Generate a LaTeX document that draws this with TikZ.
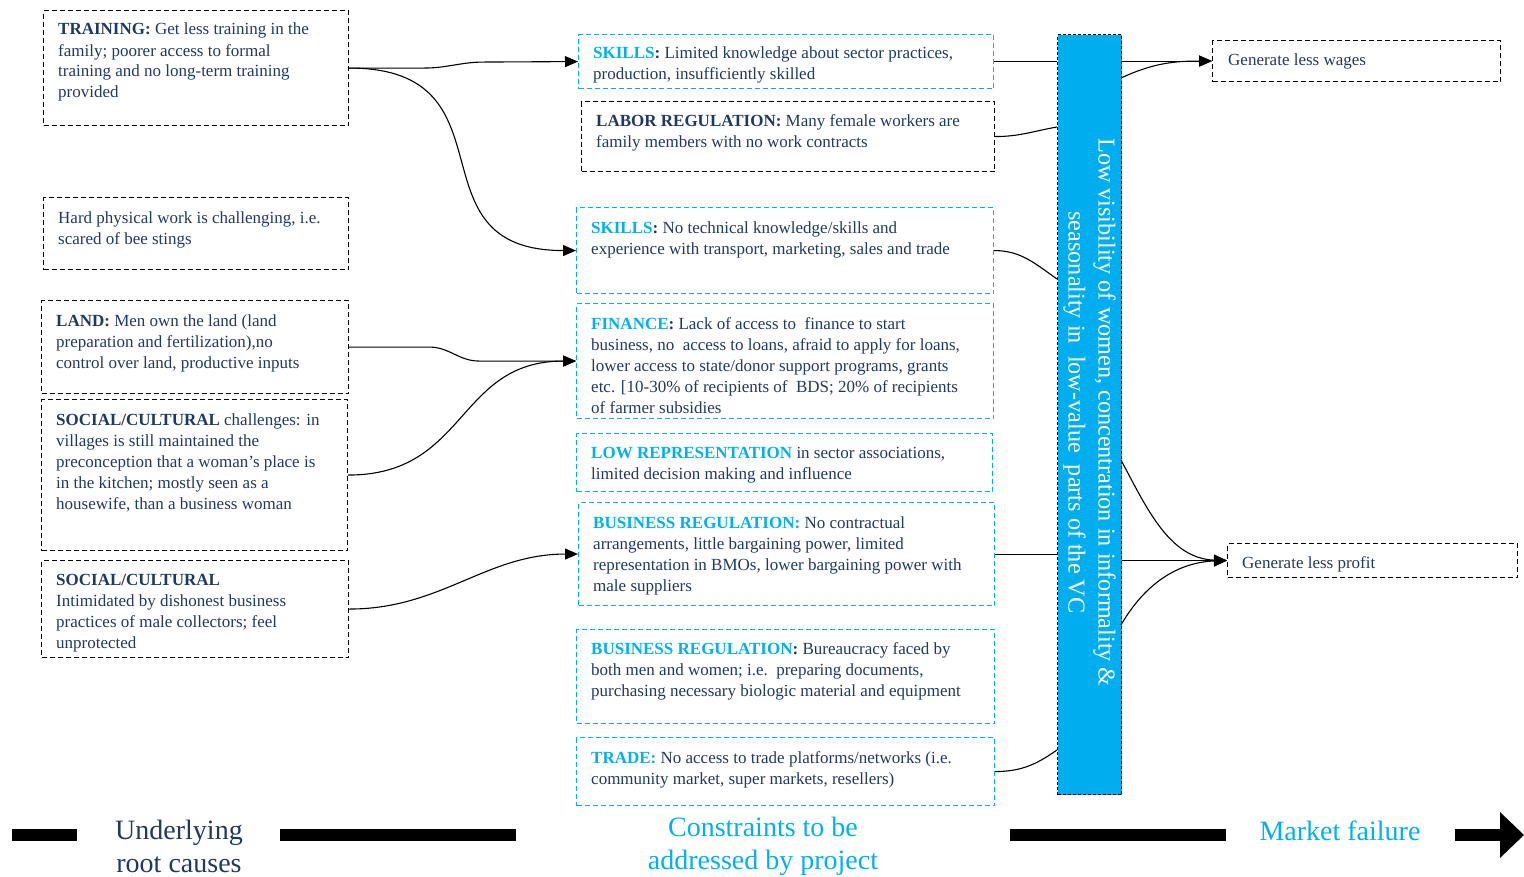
\documentclass[tikz,border=0pt]{standalone}
\usepackage{fontspec}
\setmainfont{Liberation Serif}
\usetikzlibrary{arrows.meta,calc}
\definecolor{navy}{HTML}{1F3864}
\definecolor{cyanb}{HTML}{00B0F0}
\definecolor{barfill}{HTML}{00AEEF}
\newcommand\hl[1]{\textcolor{cyanb}{\textbf{#1}}}
\begin{document}
\begin{tikzpicture}[x=1pt,y=-1pt,
 bbox/.style={draw=black, dash pattern=on 5pt off 3pt, line width=1.1pt, inner sep=0pt, anchor=north west},
 cbox/.style={draw=cyanb, dash pattern=on 5pt off 3pt, line width=1.1pt, inner sep=0pt, anchor=north west},
 txt/.style={anchor=north west, inner sep=0pt, align=left, text=navy, font=\fontsize{17}{21}\selectfont},
 conn/.style={line width=1.1pt, draw=black},
 arr/.style={conn, -{Triangle[length=13pt,width=11pt]}},
 axislab/.style={font=\fontsize{28}{33}\selectfont, align=center, inner sep=0pt},
 axisbar/.style={line width=12pt, draw=black},
]
\useasboundingbox (0,0) rectangle (1524,876);

% ---------------- left column ----------------
\node[bbox, minimum width=305pt, minimum height=115pt] (l1) at (43,10) {};
\node[txt] (l1t) at (58,23) {\textbf{TRAINING:} Get less training in the\\ family; poorer access to formal\\ training and no long-term training\\ provided};

\node[bbox, minimum width=305pt, minimum height=72pt] (l2) at (43,197) {};
\node[txt] (l2t) at (58,211) {Hard physical work is challenging, i.e.\\ scared of bee stings};

\node[bbox, minimum width=307pt, minimum height=93pt] (l3) at (41,300) {};
\node[txt] (l3t) at (56,314) {\textbf{LAND:} Men own the land (land\\ preparation and fertilization),no\\ control over land, productive inputs};

\node[bbox, minimum width=306pt, minimum height=151pt] (l4) at (41,399) {};
\node[txt] (l4t) at (56,413) {\textbf{SOCIAL/CULTURAL} challenges: in\\ villages is still maintained the\\ preconception that a woman’s place is\\ in the kitchen; mostly seen as a\\ housewife, than a business woman};

\node[bbox, minimum width=307pt, minimum height=97pt] (l5) at (41,560) {};
\node[txt] (l5t) at (56,574) {\textbf{SOCIAL/CULTURAL}\\ Intimidated by dishonest business\\ practices of male collectors; feel\\ unprotected};

% ---------------- middle column ----------------
\node[cbox, minimum width=415pt, minimum height=54pt] (m1) at (578,34) {};
\node[txt] (m1t) at (593,47) {\hl{SKILLS}\textbf{:} Limited knowledge about sector practices,\\ production, insufficiently skilled};

\node[bbox, minimum width=413pt, minimum height=70pt] (m2) at (581,101) {};
\node[txt] (m2t) at (596,114) {\textbf{LABOR REGULATION:} Many female workers are\\ family members with no work contracts};

\node[cbox, minimum width=417pt, minimum height=86pt] (m3) at (576,207) {};
\node[txt] (m3t) at (591,221) {\hl{SKILLS}\textbf{:} No technical knowledge/skills and\\ experience with transport, marketing, sales and trade};

\node[cbox, minimum width=417pt, minimum height=115pt] (m4) at (576,303) {};
\node[txt] (m4t) at (591,317) {\hl{FINANCE}\textbf{:} Lack of access to\ \ finance to start\\ business, no\ \ access to loans, afraid to apply for loans,\\ lower access to state/donor support programs, grants\\ etc. [10-30\% of recipients of\ \ BDS; 20\% of recipients\\ of farmer subsidies};

\node[cbox, minimum width=416pt, minimum height=58pt] (m5) at (576,433) {};
\node[txt] (m5t) at (591,447) {\hl{LOW REPRESENTATION} in sector associations,\\ limited decision making and influence};

\node[cbox, minimum width=416pt, minimum height=103pt] (m6) at (578,502) {};
\node[txt] (m6t) at (593,516) {\hl{BUSINESS REGULATION:} No contractual\\ arrangements, little bargaining power, limited\\ representation in BMOs, lower bargaining power with\\ male suppliers};

\node[cbox, minimum width=418pt, minimum height=94pt] (m7) at (576,629) {};
\node[txt] (m7t) at (591,642) {\hl{BUSINESS REGULATION}\textbf{:} Bureaucracy faced by\\ both men and women; i.e.\ \ preparing documents,\\ purchasing necessary biologic material and equipment};

\node[cbox, minimum width=418pt, minimum height=68pt] (m8) at (576,737) {};
\node[txt] (m8t) at (591,751) {\hl{TRADE:} No access to trade platforms/networks (i.e.\\ community market, super markets, resellers)};

% ---------------- bar ----------------
\node[draw=black, dash pattern=on 3pt off 2pt, line width=1pt, fill=barfill, minimum width=64pt, minimum height=760pt, anchor=north west, inner sep=0pt] (bar) at (1057,34) {};
\node[rotate=-90, text=white, font=\fontsize{24.2}{30}\selectfont, align=center, inner sep=0pt] (bart) at ($(bar.center)+(0,-2)$) {Low visibility of women, concentration in informality \&\\ seasonality in\ \ low-value\ \ parts of the VC};

% ---------------- right column ----------------
\node[bbox, minimum width=288pt, minimum height=41pt] (r1) at (1212,40) {};
\node[txt] (r1t) at (1228,54) {Generate less wages};
\node[bbox, minimum width=290pt, minimum height=34pt] (r2) at (1227,543) {};
\node[txt] (r2t) at (1242,556) {Generate less profit};

% ---------------- connector end points on the bar ----------------
\coordinate (bw1) at (bar.west |- m1.east);
\coordinate (bw2) at (1057,127);
\coordinate (bw3) at (1057,279);
\coordinate (bw4) at (bar.west |- m6.east);
\coordinate (bw5) at (1057,750);
\coordinate (be1) at (bar.east |- r1.west);
\coordinate (be2) at (1121,78);
\coordinate (be3) at (1121,460);
\coordinate (be4) at (bar.east |- r2.west);
\coordinate (be5) at (1121,625);

% ---------------- connectors ----------------
\draw[arr] (l1.east) -- ++(75,0) to[out=0,in=180] ++(60,-6) -- (m1.west);
\draw[arr] (l1.east) to[out=0,in=180,looseness=1.5] (m3.west);
\draw[arr] (l3.east) -- ++(80,0) to[out=0,in=180] ++(50,14) -- (m4.west);
\draw[arr] (l4.east) to[out=0,in=180,looseness=1.2] (m4.west);
\draw[arr] (l5.east) to[out=0,in=180] (m6.west);

\draw[conn] (m1.east) -- (bw1);
\draw[conn] (m2.east) to[out=0,in=190] (bw2);
\draw[conn] (m3.east) to[out=0,in=145] (bw3);
\draw[conn] (m6.east) -- (bw4);
\draw[conn] (m8.east) to[out=0,in=215] (bw5);

\draw[arr] (be1) -- (r1.west);
\draw[arr] (be2) to[out=25,in=180] (r1.west);
\draw[arr] (be3) to[out=-62,in=178] (r2.west);
\draw[arr] (be4) -- (r2.west);
\draw[arr] (be5) to[out=60,in=182] (r2.west);

% ---------------- bottom axis ----------------
\draw[axisbar] (12,835) -- (77,835);
\draw[axisbar] (280,835) -- (516,835);
\draw[axisbar] (1010,835) -- (1226,835);
\draw[axisbar] (1455,835) -- (1503,835);
\fill[black] (1500,812) -- (1524,835) -- (1500,858) -- cycle;
\node[axislab, text=navy] (lab1) at (179,846) {Underlying\\ root causes};
\node[axislab, text=cyanb] (lab2) at (763,846) {Constraints to be\\ addressed by project};
\node[axislab, text=cyanb] (lab3) at (1340,831) {Market failure};
\end{tikzpicture}
\end{document}
